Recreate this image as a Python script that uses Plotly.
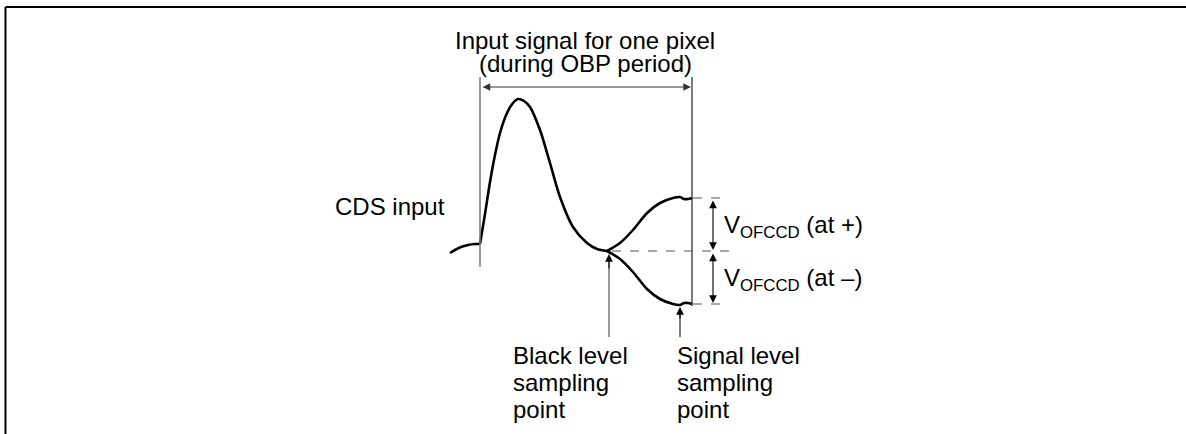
import plotly.graph_objects as go

# Waveform (diagram coordinates: x = time, y = level, screen-like units)
lead_x = [450, 455, 461, 468, 475, 480]
lead_y = [253, 250, 247, 245, 244, 244]

pulse_x = [480, 485, 490, 495, 500, 507, 513, 518, 524, 530, 540, 550, 560, 573, 587, 597, 607]
pulse_y = [244, 214, 182, 155, 133, 113, 103, 99, 101, 107, 130, 163, 197, 227, 243, 249, 251]

upper_x = [607, 620, 633, 647, 660, 673, 680, 684, 688, 692]
upper_y = [251, 243, 230, 213, 203, 198, 197, 199, 199, 198]

lower_x = [607, 620, 633, 647, 660, 673, 680, 684, 688, 692]
lower_y = [251, 259, 272, 289, 299, 304, 305, 303, 303, 304]

title_lines = ["Input signal for one pixel", "(during OBP period)"]
black_label = ["Black level", "sampling", "point"]
signal_label = ["Signal level", "sampling", "point"]
v_labels = ["V<sub>OFCCD</sub> (at +)", "V<sub>OFCCD</sub> (at \u2013)"]

W, H = 1186, 434
FONT = "Liberation Sans, Arial, sans-serif"
FS = 24

fig = go.Figure()

for xs, ys in [(lead_x, lead_y), (pulse_x, pulse_y), (upper_x, upper_y), (lower_x, lower_y)]:
    fig.add_trace(go.Scatter(x=xs, y=ys, mode="lines",
                             line=dict(color="black", width=2.6, shape="spline", smoothing=0.8),
                             hoverinfo="skip", showlegend=False))

def line(x0, y0, x1, y1, color="black", width=1.0, dash=None):
    fig.add_shape(type="line", x0=x0, y0=y0, x1=x1, y1=y1, xref="x", yref="y",
                  line=dict(color=color, width=width, dash=dash))

# frame (top and left border)
line(5.5, 7, W, 7, width=2)
line(5.5, 7, 5.5, H, width=2)

# period boundaries
line(480, 77, 480, 267, color="#7a7a7a", width=1.5)
line(692, 77, 692, 306, color="#222222", width=1.2)

# dashed reference levels
line(693, 198, 728, 198, color="#555555", width=1.1, dash="dash")
line(612, 251, 732, 251, color="#555555", width=1.1, dash="dash")
line(693, 304, 728, 304, color="#555555", width=1.1, dash="dash")

# sampling point arrow shafts
line(609, 337, 609, 262, color="#7a7a7a", width=1.5)
line(680, 337, 680, 312, color="#222222", width=1.2)

def arrow(x, y, ax, ay, both=False, color="black"):
    fig.add_annotation(x=x, y=y, ax=ax, ay=ay, xref="x", yref="y", axref="x", ayref="y",
                       text="", showarrow=True, arrowhead=2, arrowsize=1.4, arrowwidth=1.1,
                       arrowcolor=color, standoff=0, startstandoff=0,
                       arrowside="end+start" if both else "end", startarrowhead=2, startarrowsize=1.4)

arrow(691, 87, 481, 87, both=True, color="#333333")
arrow(713, 250, 713, 199, both=True)
arrow(713, 303, 713, 252, both=True)
arrow(609, 254, 609, 270)
arrow(680, 307, 680, 320)

def text(s, x, y, anchor="left"):
    fig.add_annotation(x=x, y=y, xref="x", yref="y", text=s, showarrow=False,
                       xanchor=anchor, yanchor="middle",
                       font=dict(family=FONT, size=FS, color="black"))

text(title_lines[0], 585, 40, "center")
text(title_lines[1], 585, 63, "center")
text("CDS input", 333, 206)
text(v_labels[0], 722, 226)
text(v_labels[1], 722, 279)
for i, s in enumerate(black_label):
    text(s, 511, 355 + 27 * i)
for i, s in enumerate(signal_label):
    text(s, 675, 355 + 27 * i)

fig.update_xaxes(range=[0, W], visible=False, fixedrange=True)
fig.update_yaxes(range=[H, 0], visible=False, fixedrange=True)
fig.update_layout(width=W, height=H, margin=dict(l=0, r=0, t=0, b=0),
                  plot_bgcolor="white", paper_bgcolor="white", showlegend=False)

fig.write_html("out.html", config={"displayModeBar": False},
               post_script="document.body.style.margin='0';document.body.style.overflow='hidden';")
